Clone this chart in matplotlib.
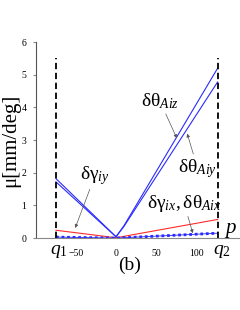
import numpy as np
import matplotlib
matplotlib.use("Agg")
import matplotlib.pyplot as plt

plt.rcParams['font.family'] = ['Liberation Serif', 'DejaVu Serif']
plt.rcParams['mathtext.fontset'] = 'custom'
plt.rcParams['mathtext.rm'] = 'Liberation Serif'
plt.rcParams['mathtext.it'] = 'Liberation Serif:italic'

# 数据
p = [-75, 0, 10, 127]
theta_z = [1.82, 0.04, 0.38, 5.20]
theta_y = [1.72, 0.04, 0.36, 4.78]
p_lin = [-75, 0, 127]
gamma_iy = [0.24, 0.01, 0.57]
gamma_ix = [0.03, 0.0, 0.15]
q1, q2 = -75, 127
xticks = [-50, 0, 50, 100]
yticks = [0, 1, 2, 3, 4, 5, 6]

fig = plt.figure(figsize=(2.4, 3.1), dpi=100)
ax = fig.add_axes([0.15, 0.232, 0.85, 0.632])

ax.plot(p, theta_z, color='#2a2aff', lw=0.8)
ax.plot(p, theta_y, color='#2a2aff', lw=0.8)
ax.plot(p_lin, gamma_iy, color='#ff2a2a', lw=0.8)
ax.plot(p_lin, gamma_ix, color='#2a2aff', lw=2.0, ls=(0, (1, 1)))
ax.plot(p_lin, gamma_ix, color='#2a2aff', lw=0.6)

ax.vlines([q1, q2], 0, 5.5, colors='black', lw=1.3, linestyles=(0, (3.5, 2)))

ax.set_xlim(-100, 155)
ax.set_ylim(0, 6)
ax.set_xticks(xticks)
ax.set_yticks(yticks)
ax.tick_params(axis='x', length=0, labelsize=7, pad=8)
ax.tick_params(axis='y', length=2, labelsize=7, pad=5, color='#888888')
for s in ['top', 'right']:
    ax.spines[s].set_visible(False)
ax.spines['left'].set_color('#555555')
ax.spines['bottom'].set_color('#888888')
ax.set_ylabel('μ[mm/deg]', fontsize=15, labelpad=1)

arrow = dict(arrowstyle='-|>', color='#555555', lw=0.5, shrinkA=0, shrinkB=0,
             mutation_scale=5)
ax.annotate(r'$\mathrm{\delta\theta}_{Aiz}$', xy=(76, 3.06), xytext=(55, 4.19),
            fontsize=14, ha='center', va='center', arrowprops=arrow)
ax.annotate(r'$\mathrm{\delta\theta}_{Aiy}$', xy=(89, 3.2), xytext=(102, 2.14),
            fontsize=14, ha='center', va='center', arrowprops=arrow)
ax.annotate(r'$\mathrm{\delta\gamma}_{iy}$', xy=(-51, 0.31), xytext=(-26, 1.93),
            fontsize=14, ha='center', va='center', arrowprops=arrow)
ax.annotate(r'$\mathrm{\delta\gamma}_{ix}\mathrm{,\delta\theta}_{Aix}$', xy=(96, 0.15),
            xytext=(85, 1.07), fontsize=14, ha='center', va='center', arrowprops=arrow)

fig.text(231 / 240, 1 - 231 / 310, '$p$', fontsize=15, ha='center', va='center')
fig.text(59 / 240, 1 - 251 / 310, '$q_{\\mathrm{1}}$', fontsize=14, ha='center', va='center')
fig.text(222 / 240, 1 - 251 / 310, '$q_{\\mathrm{2}}$', fontsize=14, ha='center', va='center')
fig.text(130 / 240, 1 - 265 / 310, '(b)', fontsize=14, ha='center', va='center')

fig.savefig('out.png', dpi=100)
